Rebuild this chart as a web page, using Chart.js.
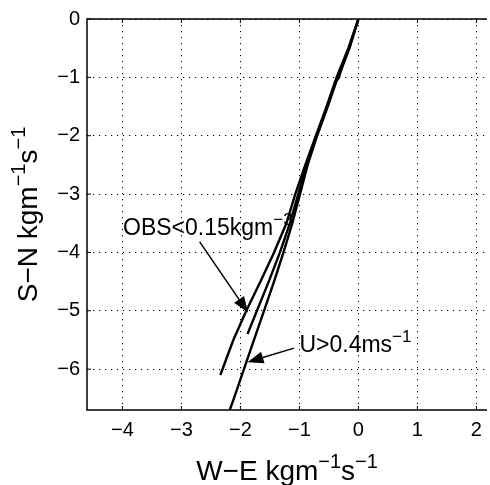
<!DOCTYPE html>
<html>
<head>
<meta charset="utf-8">
<script src="https://cdn.jsdelivr.net/npm/chart.js@4.4.0/dist/chart.umd.min.js"></script>
<style>
    html, body { margin: 0; padding: 0; background: #fff; }
    #wrap { width: 490px; height: 485px; }
</style>
</head>
<body>
<div id="wrap"><canvas id="chart-flux"></canvas></div>
<script>
//------------------------------------------------ DATA ------------------------------------------------
var xTicks = [-4, -3, -2, -1, 0, 1, 2];
var yTicks = [0, -1, -2, -3, -4, -5, -6];

// curve with OBS < 0.15 kgm-3
var obsX = [0, -0.17, -0.37, -0.54, -0.72, -0.90, -1.07, -1.22, -1.43, -1.66, -1.90, -2.12, -2.34];
var obsY = [0, -0.5, -1, -1.5, -2, -2.5, -3, -3.5, -4, -4.5, -5, -5.5, -6.1];

// middle curve (all data)
var allX = [0, -0.16, -0.30, -0.33, -0.40, -0.53, -0.71, -0.88, -1.02, -1.16, -1.33, -1.52, -1.72, -1.88];
var allY = [0, -0.5, -0.9, -1, -1.1, -1.5, -2, -2.5, -3, -3.5, -4, -4.5, -5, -5.4];

// curve with U > 0.4 ms-1
var windX = [0, -0.15, -0.35, -0.52, -0.70, -0.86, -0.99, -1.12, -1.27, -1.43, -1.60, -1.77, -1.94, -2.11, -2.18];
var windY = [0, -0.5, -1, -1.5, -2, -2.5, -3, -3.5, -4, -4.5, -5, -5.5, -6, -6.5, -6.7];

// annotations: text anchor + arrow (from -> to), all in data units
var obsLabel = { x: -3.99, y: -3.70, text: 'OBS<0.15kgm', sup: '\u22123' };
var obsArrow = { x0: -2.69, y0: -3.82, x1: -1.87, y1: -5.03 };
var windLabel = { x: -1.00, y: -5.71, text: 'U>0.4ms', sup: '\u22121' };
var windArrow = { x0: -1.09, y0: -5.64, x1: -1.88, y1: -5.88 };

var FONT = '"Liberation Sans", Arial, Helvetica, sans-serif';

function toPoints(xs, ys) {
    var pts = [];
    for (var i = 0; i < xs.length; i++) {
        pts.push({ x: xs[i], y: ys[i] });
    }
    return pts;
}

function minusSign(v) {
    return String(v).replace('-', '\u2212');
}

// text with superscripts: parts = [[text, isSup], ...]
function drawRich(ctx, parts, x, y, size, align) {
    var supSize = Math.round(size * 0.72);
    var total = 0;
    parts.forEach(function (p) {
        ctx.font = (p[1] ? supSize : size) + 'px ' + FONT;
        total += ctx.measureText(p[0]).width;
    });
    var cx = align === 'center' ? x - total / 2 : x;
    ctx.textAlign = 'left';
    ctx.textBaseline = 'alphabetic';
    parts.forEach(function (p) {
        ctx.font = (p[1] ? supSize : size) + 'px ' + FONT;
        ctx.fillText(p[0], cx, p[1] ? y - size * 0.43 : y);
        cx += ctx.measureText(p[0]).width;
    });
}

function drawArrow(ctx, xs, ys, a) {
    var x0 = xs.getPixelForValue(a.x0), y0 = ys.getPixelForValue(a.y0);
    var x1 = xs.getPixelForValue(a.x1), y1 = ys.getPixelForValue(a.y1);
    var ang = Math.atan2(y1 - y0, x1 - x0);
    var len = 16, half = 6;
    var bx = x1 - len * Math.cos(ang), by = y1 - len * Math.sin(ang);
    ctx.beginPath();
    ctx.moveTo(x0, y0);
    ctx.lineTo(bx, by);
    ctx.lineWidth = 1.5;
    ctx.stroke();
    ctx.beginPath();
    ctx.moveTo(x1, y1);
    ctx.lineTo(bx + half * Math.sin(ang), by - half * Math.cos(ang));
    ctx.lineTo(bx - half * Math.sin(ang), by + half * Math.cos(ang));
    ctx.closePath();
    ctx.fill();
}

//------------------------------------------------ axes box, titles, annotations ------------------------------------------------
var decorPlugin = {
    id: 'decor',
    afterDraw: function (chart) {
        var ctx = chart.ctx;
        var a = chart.chartArea;
        var xs = chart.scales.x, ys = chart.scales.y;
        ctx.save();
        ctx.strokeStyle = '#000';
        ctx.fillStyle = '#000';

        // axis lines (left, top, bottom; right edge is cut off in the figure)
        ctx.lineWidth = 1.5;
        ctx.beginPath();
        ctx.moveTo(a.right, a.top);
        ctx.lineTo(a.left, a.top);
        ctx.lineTo(a.left, a.bottom);
        ctx.lineTo(a.right, a.bottom);
        ctx.stroke();

        // inward tick marks
        ctx.lineWidth = 1;
        ctx.beginPath();
        xTicks.forEach(function (v) {
            var px = xs.getPixelForValue(v);
            ctx.moveTo(px, a.bottom); ctx.lineTo(px, a.bottom - 4);
            ctx.moveTo(px, a.top); ctx.lineTo(px, a.top + 4);
        });
        yTicks.forEach(function (v) {
            var py = ys.getPixelForValue(v);
            ctx.moveTo(a.left, py); ctx.lineTo(a.left + 4, py);
        });
        ctx.stroke();

        // arrows + labels
        drawArrow(ctx, xs, ys, obsArrow);
        drawArrow(ctx, xs, ys, windArrow);
        drawRich(ctx, [[obsLabel.text, false], [obsLabel.sup, true]],
            xs.getPixelForValue(obsLabel.x), ys.getPixelForValue(obsLabel.y), 23, 'left');
        drawRich(ctx, [[windLabel.text, false], [windLabel.sup, true]],
            xs.getPixelForValue(windLabel.x), ys.getPixelForValue(windLabel.y), 23, 'left');

        // axis titles
        drawRich(ctx, [['W\u2212E kgm', false], ['\u22121', true], ['s', false], ['\u22121', true]],
            (a.left + a.right) / 2, 480, 28, 'center');
        ctx.translate(37, (a.top + a.bottom) / 2);
        ctx.rotate(-Math.PI / 2);
        drawRich(ctx, [['S\u2212N kgm', false], ['\u22121', true], ['s', false], ['\u22121', true]],
            0, 0, 28, 'center');
        ctx.restore();
    }
};

var lineStyle = {
    showLine: true,
    borderColor: '#000',
    borderWidth: 2.4,
    pointRadius: 0,
    fill: false,
    tension: 0
};

var flux = document.getElementById('chart-flux').getContext('2d');
var chart_flux = new Chart(flux, {
    type: 'scatter',
    data: {
        datasets: [
            Object.assign({ label: 'OBS<0.15', data: toPoints(obsX, obsY) }, lineStyle),
            Object.assign({ label: 'all', data: toPoints(allX, allY) }, lineStyle),
            Object.assign({ label: 'U>0.4', data: toPoints(windX, windY) }, lineStyle)
        ]
    },
    options: {
        responsive: true,
        maintainAspectRatio: false,
        animation: false,
        layout: { padding: { top: 14, right: 1, left: 0, bottom: 0 } },
        plugins: {
            legend: { display: false },
            tooltip: { enabled: false }
        },
        scales: {
            x: {
                type: 'linear',
                min: -4.6,
                max: 2.18,
                afterBuildTicks: function (axis) {
                    axis.ticks = xTicks.map(function (v) { return { value: v }; });
                },
                afterFit: function (axis) { axis.height = 75; },
                ticks: {
                    color: '#000',
                    font: { family: FONT, size: 20 },
                    padding: 8,
                    maxRotation: 0,
                    autoSkip: false,
                    callback: function (v) { return minusSign(v); }
                },
                grid: { color: '#000', lineWidth: 1, drawTicks: false },
                border: { display: false, dash: [1.2, 4.8] }
            },
            y: {
                type: 'linear',
                min: -6.7,
                max: 0,
                afterBuildTicks: function (axis) {
                    axis.ticks = yTicks.map(function (v) { return { value: v }; });
                },
                afterFit: function (axis) { axis.width = 87; },
                ticks: {
                    color: '#000',
                    font: { family: FONT, size: 20 },
                    padding: 7,
                    autoSkip: false,
                    callback: function (v) { return minusSign(v); }
                },
                grid: { color: '#000', lineWidth: 1, drawTicks: false },
                border: { display: false, dash: [1.2, 4.8] }
            }
        }
    },
    plugins: [decorPlugin]
});
</script>
</body>
</html>
